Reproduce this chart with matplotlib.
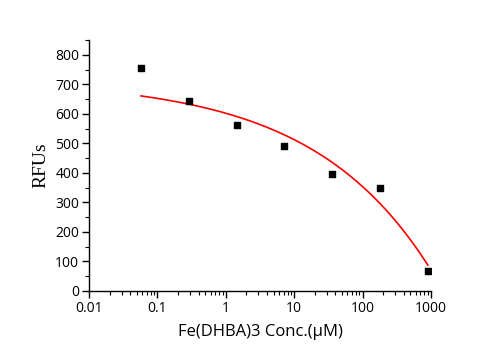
import numpy as np
import matplotlib.pyplot as plt
from matplotlib.ticker import LogLocator, FixedLocator, MultipleLocator

# ======================
# data
# ======================
conc = [0.0576, 0.288, 1.44, 7.2, 36, 180, 900]   # uM
rfu = [756, 644, 563, 490, 397, 349, 68]

# fitted curve: y = A - B * x**c
fit_A = 717.0
fit_B = 114.9
fit_c = 0.25

xfit = np.logspace(np.log10(conc[0]), np.log10(conc[-1]), 200)
yfit = fit_A - fit_B * xfit ** fit_c

# ======================
# figure
# ======================
fig = plt.figure(figsize=(5.01, 3.5), dpi=100)
ax = fig.add_axes([0.1776, 0.1686, 0.6826, 0.717])

ax.plot(xfit, yfit, color="red", lw=1.2, zorder=2)
ax.scatter(conc, rfu, marker="s", s=22, color="black", zorder=3)

ax.set_xscale("log")
ax.set_xlim(0.01, 1000)
ax.set_ylim(0, 850)

ax.xaxis.set_major_locator(FixedLocator([0.01, 0.1, 1, 10, 100, 1000]))
ax.xaxis.set_minor_locator(LogLocator(base=10, subs=np.arange(2, 10)))
ax.set_xticklabels(["0.01", "0.1", "1", "10", "100", "1000"])
ax.yaxis.set_major_locator(FixedLocator(np.arange(0, 801, 100)))
ax.yaxis.set_minor_locator(MultipleLocator(50))

for s in ["top", "right"]:
    ax.spines[s].set_visible(False)
for s in ["left", "bottom"]:
    ax.spines[s].set_linewidth(1.0)

ax.tick_params(which="major", direction="out", length=5, width=1.0,
               labelsize=10, pad=2)
ax.tick_params(which="minor", direction="out", length=3, width=0.8)
for lab in ax.get_xticklabels() + ax.get_yticklabels():
    lab.set_family("Open Sans")

ax.set_xlabel("Fe(DHBA)3 Conc.(\u03bcM)", family="Open Sans", fontsize=12, labelpad=6)
ax.set_ylabel("RFUs", family="Liberation Serif", fontsize=14, labelpad=4)

fig.savefig("out.png", dpi=100)
